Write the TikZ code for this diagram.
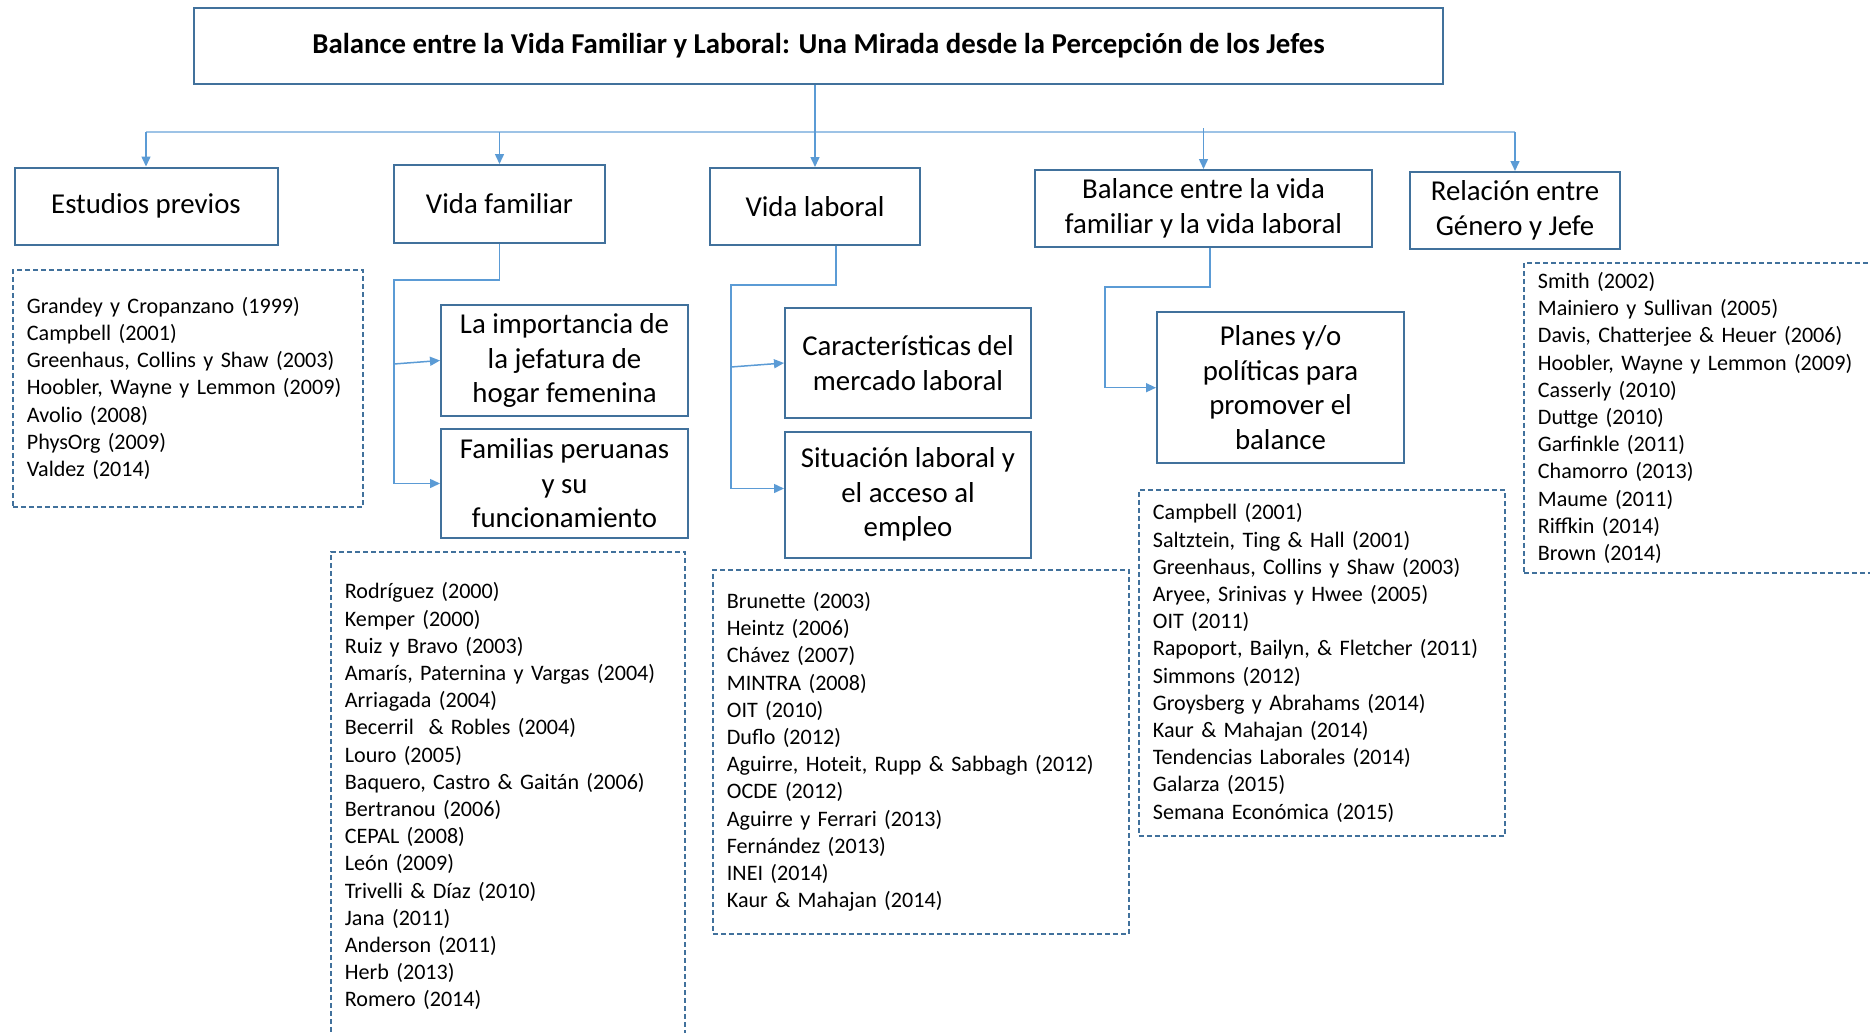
\documentclass[tikz,border=0pt]{standalone}
\usepackage{fontspec}
\setmainfont{Carlito}
\usetikzlibrary{arrows.meta}
\definecolor{boxblue}{HTML}{41719C}
\definecolor{lineblue}{HTML}{5B9BD5}
\definecolor{barblue}{HTML}{9DC3E6}

\begin{document}
\begin{tikzpicture}[x=0.5pt, y=-0.5pt,
    titlebox/.style={draw=boxblue, line width=1pt, inner sep=0pt, align=center, font=\bfseries\fontsize{14.4}{17.3}\selectfont},
    topic/.style={draw=boxblue, line width=1pt, inner sep=0pt, align=center, font=\fontsize{14.4}{17.3}\selectfont},
    refs/.style={draw=boxblue, line width=0.9pt, dash pattern=on 2.5pt off 1.5pt, anchor=north west, align=left,
        inner xsep=7pt, inner ysep=0pt, font=\fontsize{11.05}{13.6}\selectfont},
    link/.style={draw=lineblue, line width=0.75pt, -{Triangle[length=5pt,width=4.5pt]}},
    bar/.style={draw=barblue, line width=0.9pt}]

\useasboundingbox (0,0) rectangle (1870,1033);

% titulo
\node[titlebox, minimum width=624.5pt, minimum height=38pt] (titulo) at (818.5,46)
    {Balance entre la Vida Familiar y Laboral: Una Mirada desde la Percepción de los Jefes};

% temas
\node[topic, minimum width=131.5pt, minimum height=38.5pt] (estudios) at (146,206) {Estudios previos};
\node[topic, minimum width=105.5pt, minimum height=39pt] (familiar) at (499.5,204) {Vida familiar};
\node[topic, minimum width=105pt, minimum height=38.5pt] (laboral) at (815,206.5) {Vida laboral};
\node[topic, minimum width=168.5pt, minimum height=38.5pt] (balance) at (1203.5,208.5)
    {Balance entre la vida\\familiar y la vida laboral};
\node[topic, minimum width=105pt, minimum height=38.5pt] (genero) at (1515,210.5)
    {Relación entre\\Género y Jefe};

% subtemas
\node[topic, minimum width=123.5pt, minimum height=55.5pt] (jefatura) at (564.5,360.5)
    {La importancia de\\la jefatura de\\hogar femenina};
\node[topic, minimum width=123.5pt, minimum height=54.5pt] (familias) at (564.5,483.5)
    {Familias peruanas\\y su\\funcionamiento};
\node[topic, minimum width=123pt, minimum height=55pt] (mercado) at (908,363)
    {Características del\\mercado laboral};
\node[topic, minimum width=123pt, minimum height=63pt] (empleo) at (908,494.5)
    {Situación laboral y\\el acceso al\\empleo};
\node[topic, minimum width=123.5pt, minimum height=75.5pt] (planes) at (1280.5,387.7)
    {Planes y/o\\políticas para\\promover el\\balance};

% referencias
\node[refs, text width=161pt, minimum height=118.5pt] (refEst) at (12,269)
    {Grandey y Cropanzano (1999)\\
     Campbell (2001)\\
     Greenhaus, Collins y Shaw (2003)\\
     Hoobler, Wayne y Lemmon (2009)\\
     Avolio (2008)\\
     PhysOrg (2009)\\
     Valdez (2014)};
\node[refs, text width=163pt, minimum height=244.5pt] (refFam) at (330,551)
    {Rodríguez (2000)\\
     Kemper (2000)\\
     Ruiz y Bravo (2003)\\
     Amarís, Paternina y Vargas (2004)\\
     Arriagada (2004)\\
     Becerril \ \& Robles (2004)\\
     Louro (2005)\\
     Baquero, Castro \& Gaitán (2006)\\
     Bertranou (2006)\\
     CEPAL (2008)\\
     León (2009)\\
     Trivelli \& Díaz (2010)\\
     Jana (2011)\\
     Anderson (2011)\\
     Herb (2013)\\
     Romero (2014)};
\node[refs, text width=194pt, minimum height=182pt] (refLab) at (712,569)
    {Brunette (2003)\\
     Heintz (2006)\\
     Chávez (2007)\\
     MINTRA (2008)\\
     OIT (2010)\\
     Duflo (2012)\\
     Aguirre, Hoteit, Rupp \& Sabbagh (2012)\\
     OCDE (2012)\\
     Aguirre y Ferrari (2013)\\
     Fernández (2013)\\
     INEI (2014)\\
     Kaur \& Mahajan (2014)};
\node[refs, text width=169pt, minimum height=173pt] (refBal) at (1138,489)
    {Campbell (2001)\\
     Saltztein, Ting \& Hall (2001)\\
     Greenhaus, Collins y Shaw (2003)\\
     Aryee, Srinivas y Hwee (2005)\\
     OIT (2011)\\
     Rapoport, Bailyn, \& Fletcher (2011)\\
     Simmons (2012)\\
     Groysberg y Abrahams (2014)\\
     Kaur \& Mahajan (2014)\\
     Tendencias Laborales (2014)\\
     Galarza (2015)\\
     Semana Económica (2015)};
\node[refs, text width=164.5pt, minimum height=155pt] (refGen) at (1523,262)
    {Smith (2002)\\
     Mainiero y Sullivan (2005)\\
     Davis, Chatterjee \& Heuer (2006)\\
     Hoobler, Wayne y Lemmon (2009)\\
     Casserly (2010)\\
     Duttge (2010)\\
     Garfinkle (2011)\\
     Chamorro (2013)\\
     Maume (2011)\\
     Riffkin (2014)\\
     Brown (2014)};

% conectores
\coordinate (hub) at (816,132);
\draw[bar] (hub -| estudios.north) -- (hub -| genero.north);
\draw[link] (titulo.south -| laboral.north) -- (laboral.north);
\draw[link] (hub -| estudios.north) -- (estudios.north);
\draw[link] (hub -| familiar.north) -- (familiar.north);
\draw[link] ([yshift=2pt]hub -| balance.north) -- (balance.north);
\draw[link] (hub -| genero.north) -- (genero.north);

\coordinate (famK) at (394,280);
\coordinate (famB) at (394,364);
\draw[link] (familiar.south) |- (famK) |- (familias.west);
\draw[link] (famB) -- (jefatura.west);

\coordinate (labK) at (731,285);
\coordinate (labB) at (731,367);
\draw[link] ([xshift=10.5pt]laboral.south) |- (labK) |- ([yshift=3pt]empleo.west);
\draw[link] (labB) -- (mercado.west);

\coordinate (balK) at (1105,287);
\draw[link] ([xshift=3.25pt]balance.south) |- (balK) |- (planes.west);

\end{tikzpicture}
\end{document}
